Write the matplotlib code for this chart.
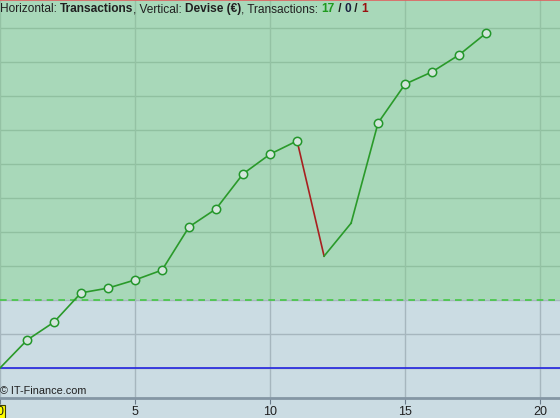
import matplotlib
matplotlib.use('Agg')
import matplotlib.pyplot as plt
from matplotlib.offsetbox import TextArea, HPacker, AnchoredOffsetbox

# equity curve per transaction (values in grid units)
trades = list(range(0, 19))
equity = [0.0, 0.82, 1.35, 2.21, 2.35, 2.59, 2.88, 4.15, 4.68, 5.71, 6.29,
          6.68, 3.29, 4.26, 7.21, 8.35, 8.71, 9.21, 9.85]
start_level = 0.0
threshold = 2.0
xticks = [0, 5, 10, 15, 20]
title_parts = [('Horizontal: ', 'normal', '#202020'),
               ('Transactions', 'bold', '#202020'),
               (', Vertical: ', 'normal', '#202020'),
               ('Devise (€)', 'bold', '#202020'),
               (', Transactions: ', 'normal', '#202020'),
               ('17', 'bold', '#1f9a1f'),
               (' / ', 'bold', '#202020'),
               ('0', 'bold', '#1a2040'),
               (' / ', 'bold', '#202020'),
               ('1', 'bold', '#9a1010')]

fig = plt.figure(figsize=(5.6, 4.18), dpi=100)
fig.patch.set_facecolor('#cbdce3')
ax = fig.add_axes([0, 20 / 418, 1, 398 / 418])
ax.set_facecolor('#cbdce3')

x0 = 4 / 27.2
ax.set_xlim(x0, x0 + 560 / 27.2)
ymin, ymax = -30 / 34, 368 / 34
ax.set_ylim(ymin, ymax)
split = (threshold - ymin) / (ymax - ymin)

# background zones
ax.axhspan(threshold, ymax, color='#a8d8b9', zorder=0)
ax.axhspan(ymin, threshold, color='#cbdce3', zorder=0)

# grid lines
for g in range(0, 11):
    c = '#90c0a0' if g > threshold else '#a6b6be'
    ax.axhline(g, color=c, lw=1, zorder=1)
for xt in xticks:
    ax.axvline(xt, ymin=split, ymax=1, color='#94c2a4', lw=1, zorder=1)
    ax.axvline(xt, ymin=0, ymax=split, color='#a6b6be', lw=1, zorder=1)

ax.axhline(threshold, color='#44c844', lw=1.2, ls=(0, (4, 3)), zorder=2)
ax.axhline(start_level, color='#2424e0', lw=1.2, zorder=2)

# equity line, losing trades red
for i in range(1, len(trades)):
    col = '#2a9a2a' if equity[i] >= equity[i - 1] else '#a82020'
    ax.plot(trades[i - 1:i + 1], equity[i - 1:i + 1], color=col, lw=1.2, zorder=3)

# markers at new highs
best = equity[0]
hx, hy = [], []
for t, v in zip(trades[1:], equity[1:]):
    if v > best:
        hx.append(t)
        hy.append(v)
        best = v
ax.plot(hx, hy, 'o', ms=6, mfc='#d4e6dc', mec='#22962a', mew=1.1, ls='none', zorder=4)

for s in ['left', 'right']:
    ax.spines[s].set_visible(False)
ax.spines['top'].set_color('#e06060')
ax.spines['top'].set_linewidth(1.2)
ax.spines['bottom'].set_color('#8496a4')
ax.spines['bottom'].set_linewidth(2)

ax.set_yticks([])
ax.set_xticks(xticks)
ax.tick_params(axis='x', length=4, color='#6a7a88', labelsize=9, pad=2,
               labelcolor='#202020')
for lab in ax.get_xticklabels():
    lab.set_fontfamily('Liberation Sans')
    if lab.get_text() == '0':
        lab.set_bbox(dict(facecolor='#ffff00', edgecolor='#404000', pad=1, lw=0.8))

boxes = [TextArea(t, textprops=dict(fontweight=w, color=c, fontsize=8.6,
                                    family='Liberation Sans'))
         for t, w, c in title_parts]
pack = HPacker(children=boxes, align='baseline', pad=0, sep=0)
anch = AnchoredOffsetbox(loc='upper left', child=pack, pad=0, borderpad=0.25,
                         frameon=False, bbox_to_anchor=(-0.007, 1.0),
                         bbox_transform=ax.transAxes)
ax.add_artist(anch)

ax.text(0.0, 0.006, '© IT-Finance.com', transform=ax.transAxes, fontsize=7.8,
        family='Liberation Sans', color='#202020', va='bottom', ha='left')

fig.savefig('out.png', dpi=100, facecolor=fig.get_facecolor())
